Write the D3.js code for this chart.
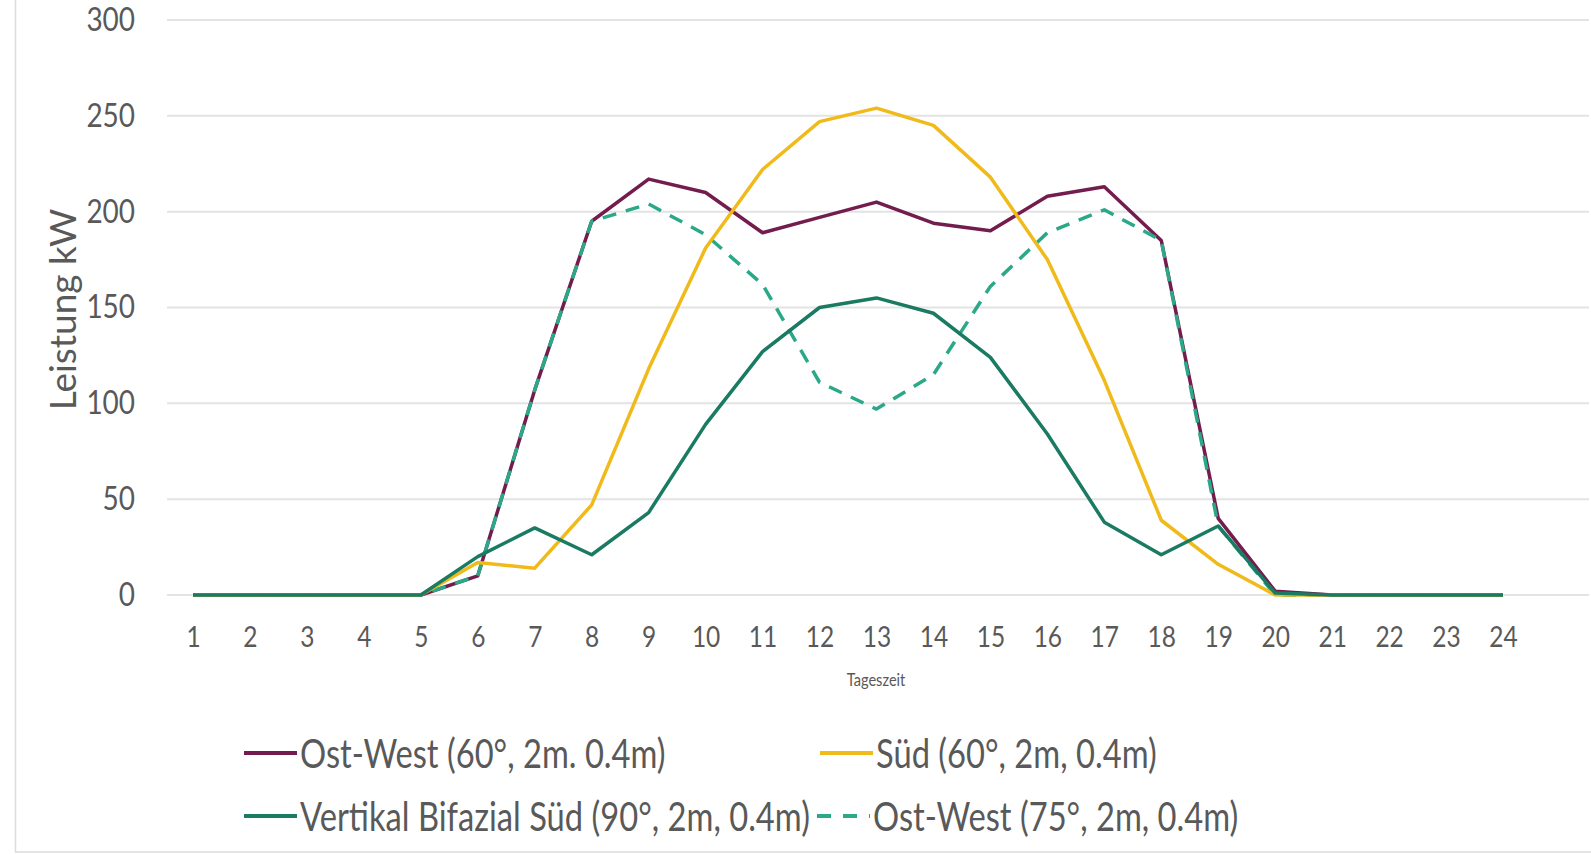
<!DOCTYPE html>
<html>
<head>
<meta charset="utf-8">
<script src="https://cdn.jsdelivr.net/npm/d3@7"></script>
<style>
  html, body { margin: 0; padding: 0; background: #fff; overflow: hidden; }
  svg { display: block; }
  text { font-family: Lato, "Open Sans", sans-serif; fill: #595959; }
  .narrow-r { transform-box: fill-box; transform-origin: right center; transform: scaleX(0.86); }
  .narrow-c { transform-box: fill-box; transform-origin: center center; transform: scaleX(0.86); }
  .narrow-l { transform-box: fill-box; transform-origin: left center; transform: scaleX(0.788); }
</style>
</head>
<body>
<div id="chart"></div>
<script>
var svgWidth = 1591;
var svgHeight = 854;

// hours of the day
var hours = d3.range(1, 25);
var yTicks = [0, 50, 100, 150, 200, 250, 300];

// Leistung in kW per hour
var ostWest60 = [0, 0, 0, 0, 0, 10, 107, 195, 217, 210, 189, 197, 205, 194, 190, 208, 213, 185, 40, 2, 0, 0, 0, 0];
var sued60 = [0, 0, 0, 0, 0, 17, 14, 47, 118, 181, 222, 247, 254, 245, 218, 175, 112, 39, 16, 0, 0, 0, 0, 0];
var vertikal90 = [0, 0, 0, 0, 0, 20, 35, 21, 43, 89, 127, 150, 155, 147, 124, 84, 38, 21, 36, 1, 0, 0, 0, 0];
var ostWest75 = [0, 0, 0, 0, 0, 10, 107, 195, 204, 188, 162, 111, 97, 115, 161, 189, 201, 185, 36, 0, 0, 0, 0, 0];

var seriesNames = ["Ost-West (60°, 2m. 0.4m)", "Süd (60°, 2m, 0.4m)", "Vertikal Bifazial Süd (90°, 2m, 0.4m)", "Ost-West (75°, 2m, 0.4m)"];
var seriesColors = ["#721d4e", "#f0ba1a", "#1a7a62", "#2aa887"];

var margin = { top: 20, right: 2, bottom: 259, left: 167 };
var width = svgWidth - margin.left - margin.right;
var height = svgHeight - margin.top - margin.bottom;

var svg = d3.select("#chart").append("svg")
  .attr("width", svgWidth)
  .attr("height", svgHeight)
  .attr("viewBox", `0 0 ${svgWidth} ${svgHeight}`);

// chart frame (partly cropped in the reference)
svg.append("rect")
  .attr("x", 15.5).attr("y", -10)
  .attr("width", svgWidth + 20).attr("height", 862)
  .attr("fill", "none")
  .attr("stroke", "#dcdcdc")
  .attr("stroke-width", 1.5);

var chartGroup = svg.append("g")
  .attr("transform", `translate(${margin.left}, ${margin.top})`);

// x positions: 24 hours, not spread over the whole grid width
var xScale = d3.scalePoint()
  .domain(hours)
  .range([26, 1336]);

var yScale = d3.scaleLinear()
  .domain([0, 300])
  .range([height, 0]);

// gridlines
chartGroup.append("g")
  .selectAll("line")
  .data(yTicks)
  .enter()
  .append("line")
  .attr("x1", 0)
  .attr("x2", width)
  .attr("y1", d => yScale(d))
  .attr("y2", d => yScale(d))
  .attr("stroke", "#e3e3e3")
  .attr("stroke-width", 2);

// y axis
var leftAxis = d3.axisLeft(yScale).tickValues(yTicks).tickSize(0).tickPadding(32);
var yAxis = chartGroup.append("g").call(leftAxis);
yAxis.select(".domain").remove();
yAxis.selectAll("text")
  .classed("narrow-r", true)
  .style("font-size", "32.5px")
  .attr("fill", "#595959");

// x axis
var bottomAxis = d3.axisBottom(xScale).tickSize(0).tickPadding(32);
var xAxis = chartGroup.append("g")
  .attr("transform", `translate(0, ${height})`)
  .call(bottomAxis);
xAxis.select(".domain").remove();
xAxis.selectAll("text")
  .classed("narrow-c", true)
  .style("font-size", "28.5px")
  .attr("fill", "#595959");

// axis titles
chartGroup.append("text")
  .attr("x", (xScale(1) + xScale(24)) / 2 + 28)
  .attr("y", height + 91)
  .attr("text-anchor", "middle")
  .classed("narrow-c", true)
  .style("font-size", "17px")
  .text("Tageszeit");

chartGroup.append("text")
  .attr("transform", "rotate(-90)")
  .attr("x", -(yScale(149)))
  .attr("y", -91)
  .attr("text-anchor", "middle")
  .style("font-size", "37px")
  .text("Leistung kW");

// lines
var line = d3.line()
  .x((d, i) => xScale(hours[i]))
  .y(d => yScale(d));

var allSeries = [ostWest60, sued60, vertikal90, ostWest75];
var dashes = [null, null, null, "14,10"];
var drawOrder = [0, 3, 1, 2];

drawOrder.forEach(function(k) {
  chartGroup.append("path")
    .datum(allSeries[k])
    .attr("d", line)
    .attr("fill", "none")
    .attr("stroke", seriesColors[k])
    .attr("stroke-width", 3.5)
    .attr("stroke-linejoin", "round")
    .attr("stroke-dasharray", dashes[k]);
});

// legend
var legendPos = [[244, 753], [820, 753], [244, 816], [817, 816]];
var legend = svg.append("g");
allSeries.forEach(function(s, k) {
  var g = legend.append("g")
    .attr("transform", `translate(${legendPos[k][0]}, ${legendPos[k][1]})`);
  g.append("line")
    .attr("x1", 0).attr("x2", 53)
    .attr("y1", 0).attr("y2", 0)
    .attr("stroke", seriesColors[k])
    .attr("stroke-width", 4)
    .attr("stroke-dasharray", dashes[k] ? "14,12" : null);
  g.append("text")
    .attr("x", 56)
    .attr("y", 15)
    .classed("narrow-l", true)
    .style("font-size", "41.5px")
    .text(seriesNames[k]);
});
</script>
</body>
</html>
